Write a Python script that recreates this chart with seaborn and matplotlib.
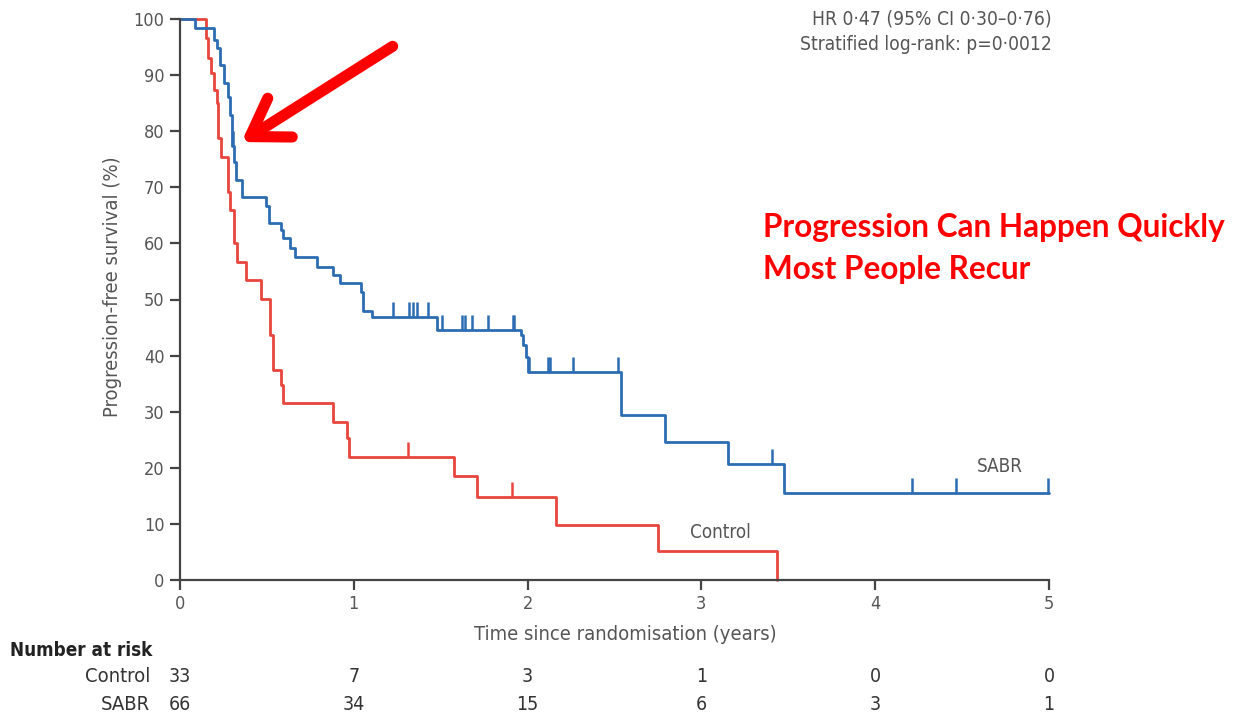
import numpy as np
import pandas as pd
import matplotlib
matplotlib.use("Agg")
import matplotlib.pyplot as plt
import matplotlib.path as mpath
import matplotlib.transforms as mtransforms
import seaborn as sns

# ---------------- data ----------------
control_t = [0.0, 0.150, 0.161, 0.178, 0.196, 0.213, 0.219, 0.236, 0.276, 0.290, 0.311,
             0.328, 0.380, 0.466, 0.518, 0.535, 0.581, 0.593, 0.880, 0.961, 0.972,
             1.577, 1.709, 2.163, 2.750, 3.435]
control_s = [100.0, 96.6, 93.0, 90.4, 87.3, 85.0, 78.8, 75.4, 69.2, 66.0, 60.1,
             56.7, 53.5, 50.1, 43.7, 37.4, 34.8, 31.6, 28.2, 25.3, 21.9,
             18.5, 14.8, 9.8, 5.2, 0.0]
control_cens = [1.31, 1.91]

sabr_t = [0.0, 0.086, 0.196, 0.213, 0.230, 0.253, 0.276, 0.288, 0.300, 0.312, 0.325,
          0.357, 0.495, 0.512, 0.581, 0.593, 0.633, 0.662, 0.788, 0.880, 0.921,
          1.041, 1.053, 1.105, 1.479, 1.962, 1.974, 1.991, 2.002, 2.537, 2.791,
          3.153, 3.475, 5.0]
sabr_s = [100.0, 98.4, 96.3, 94.8, 91.8, 88.6, 86.1, 82.9, 77.3, 74.5, 71.3,
          68.3, 66.6, 63.6, 62.4, 61.0, 59.2, 57.6, 55.8, 54.4, 52.9,
          51.3, 48.0, 46.9, 44.6, 43.7, 41.9, 39.7, 37.1, 29.4, 24.6,
          20.7, 15.5, 15.5]
sabr_cens = [0.305, 1.226, 1.318, 1.341, 1.364, 1.427, 1.507, 1.623, 1.640, 1.680,
             1.772, 1.916, 1.922, 2.008, 2.117, 2.129, 2.261, 2.520, 3.406,
             4.212, 4.465, 4.994]

risk_times = [0, 1, 2, 3, 4, 5]
control_risk = [33, 7, 3, 1, 0, 0]
sabr_risk = [66, 34, 15, 6, 3, 1]

groups = ["Control", "SABR"]
colors = {"Control": "#e8453c", "SABR": "#2b6cb2"}

# ---------------- figure ----------------
sns.set_theme(style="white")
plt.rcParams["font.family"] = ["DejaVu Sans"]
plt.rcParams["font.stretch"] = "condensed"

W, H = 1233, 717
fig = plt.figure(figsize=(W / 100, H / 100), dpi=100)
ax = fig.add_axes([180 / W, 1 - 580 / H, (1049 - 180) / W, (580 - 19) / H])

df = pd.concat([
    pd.DataFrame({"group": "Control", "time": control_t, "surv": control_s}),
    pd.DataFrame({"group": "SABR", "time": sabr_t, "surv": sabr_s}),
])

for g in groups:
    sub = df[df["group"] == g]
    sns.lineplot(data=sub, x="time", y="surv", color=colors[g], estimator=None,
                 sort=False, drawstyle="steps-post", linewidth=2.0, ax=ax,
                 clip_on=False, legend=False)


def step_val(ts, ss, t):
    i = np.searchsorted(ts, t, side="right") - 1
    return ss[i]


tick_marker = mpath.Path([(0, 0), (0, 1)])
for g, ts, ss, cens in [("Control", control_t, control_s, control_cens),
                        ("SABR", sabr_t, sabr_s, sabr_cens)]:
    cdf = pd.DataFrame({"time": cens, "surv": [step_val(ts, ss, c) for c in cens]})
    sns.scatterplot(data=cdf, x="time", y="surv", marker=tick_marker, s=470,
                    color=colors[g], edgecolor=colors[g], linewidth=1.8, ax=ax,
                    clip_on=False, legend=False, zorder=3)

ax.set_xlim(0, 5)
ax.set_ylim(0, 100)
ax.set_xticks(risk_times)
ax.set_yticks(range(0, 101, 10))
ax.set_xlabel("")
ax.set_ylabel("")
for side in ["top", "right"]:
    ax.spines[side].set_visible(False)
for side in ["left", "bottom"]:
    ax.spines[side].set_color("#444444")
    ax.spines[side].set_linewidth(1.6)
ax.tick_params(axis="both", direction="out", length=7, width=1.6, color="#444444",
               labelsize=13, labelcolor="#555555", left=True, bottom=True, pad=4)

gray = "#555555"
fig.text(112 / W, 1 - 287 / H, "Progression-free survival (%)", rotation=90,
         ha="center", va="center", fontsize=14.5, color=gray)
fig.text(625 / W, 1 - 634 / H, "Time since randomisation (years)",
         ha="center", va="center", fontsize=14.5, color=gray)

fig.text(1052 / W, 1 - 19 / H, "HR 0·47 (95% CI 0·30–0·76)", ha="right", va="center",
         fontsize=13.8, color=gray)
fig.text(1052 / W, 1 - 45 / H, "Stratified log-rank: p=0·0012", ha="right", va="center",
         fontsize=13.8, color=gray)

fig.text(1000 / W, 1 - 467 / H, "SABR", ha="center", va="center", fontsize=13.5, color=gray)
fig.text(720 / W, 1 - 532 / H, "Control", ha="center", va="center", fontsize=13.5, color=gray)

red_font = dict(fontsize=22.7, color="#ff0000", fontweight="bold",
                family=["Lato", "DejaVu Sans"], fontstretch="normal")
fig.text(763 / W, 1 - 228 / H, "Progression Can Happen Quickly", ha="left", va="center",
         **red_font)
fig.text(763 / W, 1 - 270 / H, "Most People Recur", ha="left", va="center", **red_font)

# arrow
ax.annotate("", xy=(0.34, 77.8), xytext=(1.237, 95.4), xycoords="data",
            arrowprops=dict(arrowstyle="->, head_length=0.85, head_width=0.55",
                            mutation_scale=30, lw=8, color="#ff0000",
                            capstyle="round", joinstyle="round"),
            annotation_clip=False)

# number at risk table
fig.text(10 / W, 1 - 650 / H, "Number at risk", ha="left", va="center", fontsize=13.5,
         fontweight="bold", color="#222222")
trans = mtransforms.blended_transform_factory(ax.transData, fig.transFigure)
for lab, vals, ypix in [("Control", control_risk, 677), ("SABR", sabr_risk, 705)]:
    fig.text(150 / W, 1 - ypix / H, lab, ha="right", va="center", fontsize=14.5, color="#333333")
    for t, v in zip(risk_times, vals):
        ax.text(t, 1 - ypix / H, str(v), transform=trans, ha="center", va="center",
                fontsize=14, color="#333333")

fig.savefig("out.png", dpi=100)
